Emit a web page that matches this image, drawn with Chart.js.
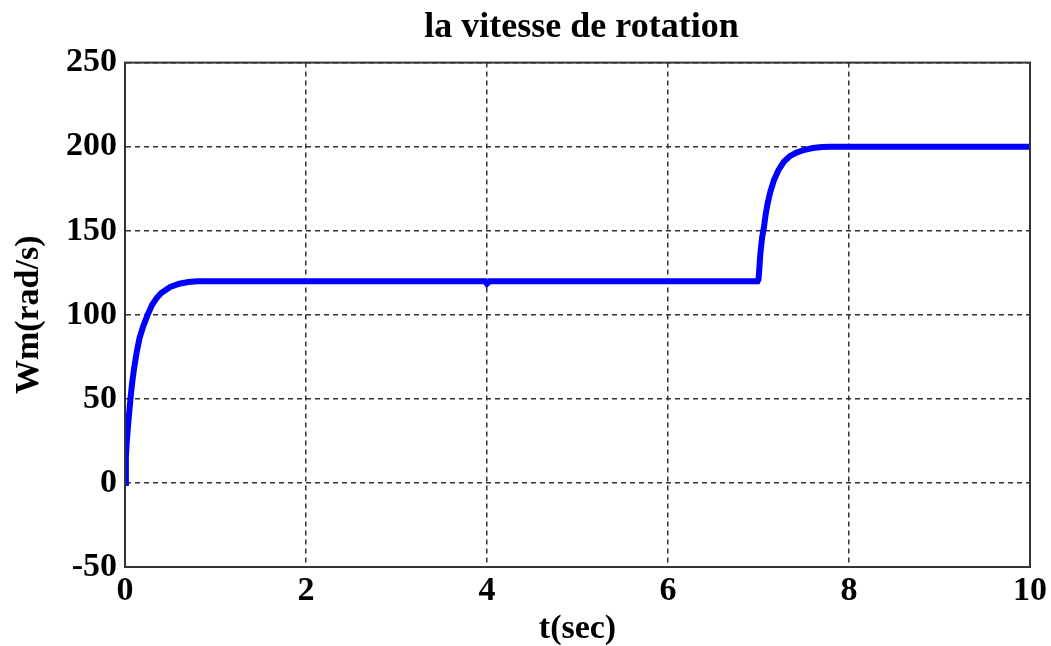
<!DOCTYPE html>
<html>
<head>
<meta charset="utf-8">
<script src="https://cdn.jsdelivr.net/npm/chart.js@4.4.1/dist/chart.umd.min.js"></script>
<style>
html,body{margin:0;padding:0;background:#fff;}
#wrap{width:1051px;height:646px;}
</style>
</head>
<body>
<div id="wrap"><canvas id="c" width="1051" height="646"></canvas></div>
<script>
const chartTitle = "la vitesse de rotation";
const xLabel = "t(sec)";
const yLabel = "Wm(rad/s)";
const timeSec = [0, 0.01, 0.02, 0.04, 0.06, 0.08, 0.1, 0.13, 0.16, 0.2, 0.25, 0.3, 0.35, 0.4, 0.5, 0.6, 0.7, 0.8, 2.0, 3.0, 3.98, 4.0, 4.03, 5.0, 6.0, 6.99, 7.0, 7.01, 7.02, 7.04, 7.06, 7.08, 7.1, 7.13, 7.17, 7.22, 7.28, 7.35, 7.42, 7.5, 7.6, 7.7, 7.8, 9.0, 10.0];
const speedWm = [0, 15, 25, 38, 50, 60, 68, 78, 86, 93, 100, 106, 110, 113, 116.5, 118.5, 119.5, 120, 120, 120, 120, 118.5, 120, 120, 120, 120, 121, 128, 136, 146, 152, 160, 166, 173, 180, 186, 191, 194.5, 196.5, 198, 199.2, 199.8, 200, 200, 200];
const xTicks = [0, 2, 4, 6, 8, 10];
const yTicks = [-50, 0, 50, 100, 150, 200, 250];

const points = timeSec.map((t, i) => ({x: t, y: speedWm[i]}));
const serif = "'Liberation Serif', 'Times New Roman', serif";

const frame = {
  id: 'frame',
  afterLayout(chart) {
    const tb = chart.titleBlock;
    if (tb) {
      const a = chart.chartArea;
      tb.left = a.left + 4;
      tb.right = a.right + 4;
      tb.width = tb.right - tb.left;
    }
  },
  afterDraw(chart) {
    const {ctx, chartArea: a} = chart;
    ctx.save();
    ctx.strokeStyle = '#333';
    ctx.lineWidth = 2;
    ctx.setLineDash([]);
    ctx.strokeRect(a.left, a.top, a.right - a.left, a.bottom - a.top);
    ctx.restore();
  }
};

new Chart(document.getElementById('c'), {
  type: 'line',
  data: {
    datasets: [{
      data: points,
      borderColor: '#0000ff',
      backgroundColor: '#0000ff',
      borderWidth: 6,
      pointRadius: 0,
      tension: 0,
      fill: false
    }]
  },
  options: {
    responsive: false,
    animation: false,
    devicePixelRatio: 1,
    layout: {padding: {left: 0, right: 21, top: 0, bottom: 0}},
    plugins: {
      legend: {display: false},
      tooltip: {enabled: false},
      title: {
        display: true,
        text: chartTitle,
        color: '#000',
        font: {family: serif, size: 36, weight: 'bold', lineHeight: 1.1},
        padding: {top: 8, bottom: 15}
      }
    },
    scales: {
      x: {
        type: 'linear',
        min: 0, max: 10,
        afterBuildTicks(s) { s.ticks = xTicks.map(v => ({value: v})); },
        afterFit(s) { s.height = 79; s.paddingRight = 0; s.paddingLeft = 0; },
        grid: {color: '#333', lineWidth: 1.5, drawTicks: false},
        border: {display: true, color: '#333', width: 2, dash: [5, 4]},
        ticks: {color: '#000', font: {family: serif, size: 34, weight: 'bold', lineHeight: 1}, padding: 7, maxRotation: 0},
        title: {display: true, text: xLabel, color: '#000', font: {family: serif, size: 34, weight: 'bold', lineHeight: 1}, padding: {top: 0, bottom: 0}}
      },
      y: {
        type: 'linear',
        min: -50, max: 250,
        afterBuildTicks(s) { s.ticks = yTicks.map(v => ({value: v})); },
        afterFit(s) { s.width = 125; s.paddingTop = 0; s.paddingBottom = 0; },
        grid: {color: '#333', lineWidth: 1.5, drawTicks: false},
        border: {display: true, color: '#333', width: 2, dash: [5, 4]},
        ticks: {color: '#000', font: {family: serif, size: 34, weight: 'bold'}, padding: 8},
        title: {display: true, text: yLabel, color: '#000', font: {family: serif, size: 34, weight: 'bold', lineHeight: 1}, padding: {top: 12, bottom: 0}}
      }
    }
  },
  plugins: [frame]
});
</script>
</body>
</html>
